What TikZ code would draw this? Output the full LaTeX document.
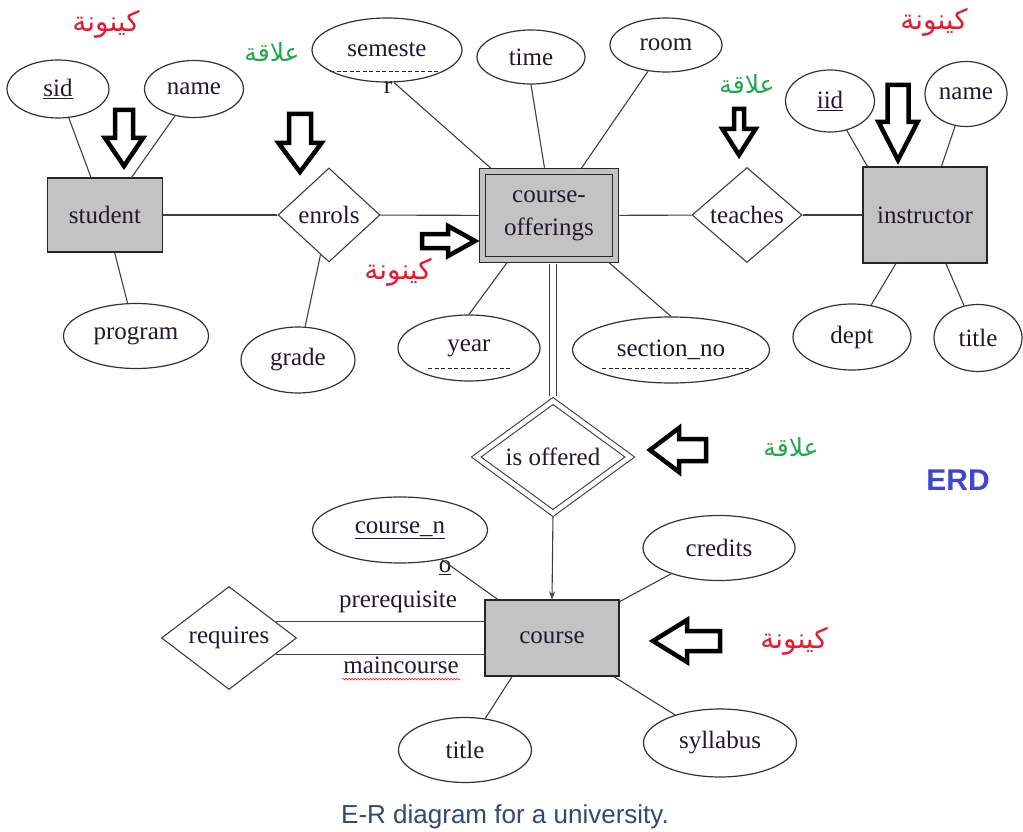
\documentclass[tikz,border=0pt]{standalone}
\usepackage{fontspec}
\setmainfont{Liberation Serif}
\newfontfamily\arabicfont[Script=Arabic]{DejaVu Sans}
\newfontfamily\labelsans{Liberation Sans}
\TeXXeTstate=1
\usepackage{xcolor}
\usetikzlibrary{arrows.meta,positioning,calc,shapes.geometric,decorations.pathmorphing}

\definecolor{entgray}{RGB}{195,195,195}
\definecolor{erink}{RGB}{35,25,45}
\definecolor{kayred}{RGB}{228,28,48}
\definecolor{alaqagreen}{RGB}{34,168,76}
\definecolor{erdblue}{RGB}{63,72,204}
\definecolor{captionblue}{RGB}{52,72,115}

\tikzset{
  er/.style={font=\fontsize{25}{30}\selectfont, text=erink, inner sep=1pt},
  entity/.style={er, draw=black!85, fill=entgray, line width=1.3pt},
  weakentity/.style={entity, double=entgray, double distance=5.5pt, line width=1.1pt},
  relation/.style={er, diamond, draw=black!75, line width=1.1pt, inner sep=0pt},
  weakrelation/.style={relation, double=white, double distance=4.5pt},
  attr/.style={er, ellipse, draw=black!80, line width=1.2pt},
  conn/.style={draw=black!75, line width=1.1pt},
  partkey/.style={draw=black!85, dash pattern=on 4pt off 2.5pt, line width=1pt},
  hollowarr/.style={draw=black, line width=4.5pt, line join=miter},
  kaynuna/.style={font=\arabicfont\fontsize{28}{30}\selectfont, text=kayred},
  alaqa/.style={font=\arabicfont\fontsize{25}{30}\selectfont, text=alaqagreen}
}

% tail, angle, length, head start, shaft half, head half
\newcommand{\hollowarrow}[6]{%
  \draw[hollowarr, shift={#1}, rotate=#2]
    (0,-#5) -- (#4,-#5) -- (#4,-#6) -- (#3,0) -- (#4,#6) -- (#4,#5) -- (0,#5) -- cycle;}

\begin{document}
\begin{tikzpicture}[x=1pt,y=-1pt]
  \fill[white] (0,0) rectangle (1023,832);
  \useasboundingbox (0,0) rectangle (1023,832);

  % Entities
  \node[entity, minimum width=115pt, minimum height=74pt] (student) at (105,215) {student};
  \node[weakentity, minimum width=133pt, minimum height=88pt, align=center,
        font=\fontsize{25}{33}\selectfont] (co) at (549,215.5) {course-\\offerings};
  \node[entity, minimum width=124pt, minimum height=96pt] (instructor) at (925,215) {instructor};
  \node[entity, minimum width=134pt, minimum height=76pt] (course) at (552,638) {course};

  % Relationships
  \node[relation, minimum width=102pt, minimum height=94pt] (enrols) at (329,215) {enrols};
  \node[relation, minimum width=110pt, minimum height=95pt] (teaches) at (747,215) {teaches};
  \node[weakrelation, minimum width=154pt, minimum height=90pt] (isoff) at (553,457) {is offered};
  \node[relation, minimum width=135pt, minimum height=103pt] (requires) at (229,638) {requires};

  % Attributes
  \node[attr, minimum width=102pt, minimum height=58pt] (sid) at (58,89) {\underline{sid}};
  \node[attr, minimum width=99pt, minimum height=57pt] (sname) at (194,89) {name};
  \node[attr, minimum width=145pt, minimum height=65pt] (program) at (136,336) {program};
  \node[attr, minimum width=114pt, minimum height=66pt] (grade) at (298,360) {grade};
  \node[attr, minimum width=150pt, minimum height=64pt] (semeste) at (387,50) {semeste};
  \node[er] (semr) at (388,88) {r};
  \node[attr, minimum width=108pt, minimum height=54pt] (time) at (531,57) {time};
  \node[attr, minimum width=112pt, minimum height=54pt] (room) at (666,45) {room};
  \node[attr, minimum width=142pt, minimum height=66pt] (year) at (469,348) {year};
  \node[attr, minimum width=197pt, minimum height=66pt] (secno) at (671,350) {section\_no};
  \node[attr, minimum width=89pt, minimum height=62pt] (iid) at (830,101) {\underline{iid}};
  \node[attr, minimum width=82pt, minimum height=65pt] (iname) at (966,94) {name};
  \node[attr, minimum width=118pt, minimum height=66pt] (dept) at (852,337) {dept};
  \node[attr, minimum width=88pt, minimum height=67pt] (ititle) at (978,338) {title};
  \node[attr, minimum width=175pt, minimum height=66pt] (courseno) at (400,530) {\underline{course\_n}};
  \node[er] (courseno2) at (445,568) {\underline{o}};
  \node[attr, minimum width=152pt, minimum height=65pt] (credits) at (719,548) {credits};
  \node[attr, minimum width=153pt, minimum height=68pt] (syllabus) at (720,743) {syllabus};
  \node[attr, minimum width=133pt, minimum height=65pt] (ctitle) at (465,750) {title};

  % Partial keys
  \draw[partkey] ($(semeste.center)+(-57,22)$) -- ++(110,0);
  \draw[partkey] ($(year.center)+(-41,20)$) -- ++(82,0);
  \draw[partkey] ($(secno.center)+(-69,18)$) -- ++(148,0);

  % Connectors
  \draw[conn] (sid) -- (student);
  \draw[conn] (sname) -- (student);
  \draw[conn] (program) -- (student);
  \draw[conn] (student) -- (enrols);
  \draw[conn] (enrols) -- (grade);
  \draw[conn, shorten >=3.3pt] (enrols) -- (co);
  \draw[conn, shorten >=3.3pt] (semeste.-78) -- ([xshift=12pt]co.north west);
  \draw[conn, shorten >=3.3pt] (time.south) -- ([xshift=-4pt]co.north);
  \draw[conn, shorten >=3.3pt] (room) -- (co);
  \draw[conn, shorten >=3.3pt] (year.north) -- ([xshift=27pt]co.south west);
  \draw[conn, shorten >=3.3pt] (secno.north) -- ([xshift=-10pt]co.south east);
  \draw[conn, shorten <=3.3pt] (co) -- (teaches);
  \draw[conn] (teaches) -- (instructor);
  \draw[conn] (iid) -- ([xshift=5pt]instructor.north west);
  \draw[conn] (iname) -- (instructor);
  \draw[conn] (dept) -- (instructor);
  \draw[conn] (ititle) -- (instructor);
  \draw[conn, double=white, double distance=6pt, shorten <=3.5pt, shorten >=4pt]
    (co.south -| isoff.north) -- (isoff.north);
  \draw[conn, -{Stealth[length=8pt, width=6pt]}, shorten <=3pt] (isoff.south) -- (course.north);
  \draw[conn] (courseno) -- (course);
  \draw[conn] (credits) -- (course);
  \draw[conn] (syllabus) -- (course);
  \draw[conn] (ctitle) -- ([xshift=-40pt]course.south);
  \draw[conn] (requires.19) -- (requires.19 -| course.west);
  \draw[conn] (requires.-19) -- (requires.-19 -| course.west);

  % Role labels
  \node[er] (prereq) at (398,602) {prerequisite};
  \node[er] (maincourse) at (401,665) {maincourse};
  \draw[red, line width=0.6pt, decorate, decoration={snake, amplitude=0.8pt, segment length=3pt}]
    ([yshift=-6pt]maincourse.base west) -- ([yshift=-6pt]maincourse.base east);

  % Hollow pointer arrows
  \hollowarrow{(124,110)}{-90}{56}{28}{9}{19}
  \hollowarrow{(300,114)}{-90}{58}{29}{11}{21.5}
  \hollowarrow{(739,109)}{-90}{46}{20}{5}{16.5}
  \hollowarrow{(898,85)}{-90}{75}{37}{10.5}{19.5}
  \hollowarrow{(422,241)}{0}{53}{26}{7}{15}
  \hollowarrow{(706,450)}{180}{56}{27}{11}{22}
  \hollowarrow{(720,641)}{180}{67}{33}{10}{21}

  % Arabic labels
  \node[kaynuna] (kay1) at (106,24) {\beginR كينونة\endR};
  \node[alaqa] (ala1) at (272,52) {\beginR علاقة\endR};
  \node[kaynuna] (kay2) at (398,272) {\beginR كينونة\endR};
  \node[kaynuna] (kay3) at (934,22) {\beginR كينونة\endR};
  \node[alaqa] (ala2) at (747,84) {\beginR علاقة\endR};
  \node[alaqa] (ala3) at (791,447) {\beginR علاقة\endR};
  \node[kaynuna] (kay4) at (794,641) {\beginR كينونة\endR};

  % Titles
  \node[font=\labelsans\bfseries\fontsize{30}{32}\selectfont, text=erdblue, anchor=base] (erd) at (958,490) {ERD};
  \node[font=\labelsans\fontsize{26}{28}\selectfont, text=captionblue, anchor=base] (caption) at (505,823) {E-R diagram for a university.};
\end{tikzpicture}
\end{document}
